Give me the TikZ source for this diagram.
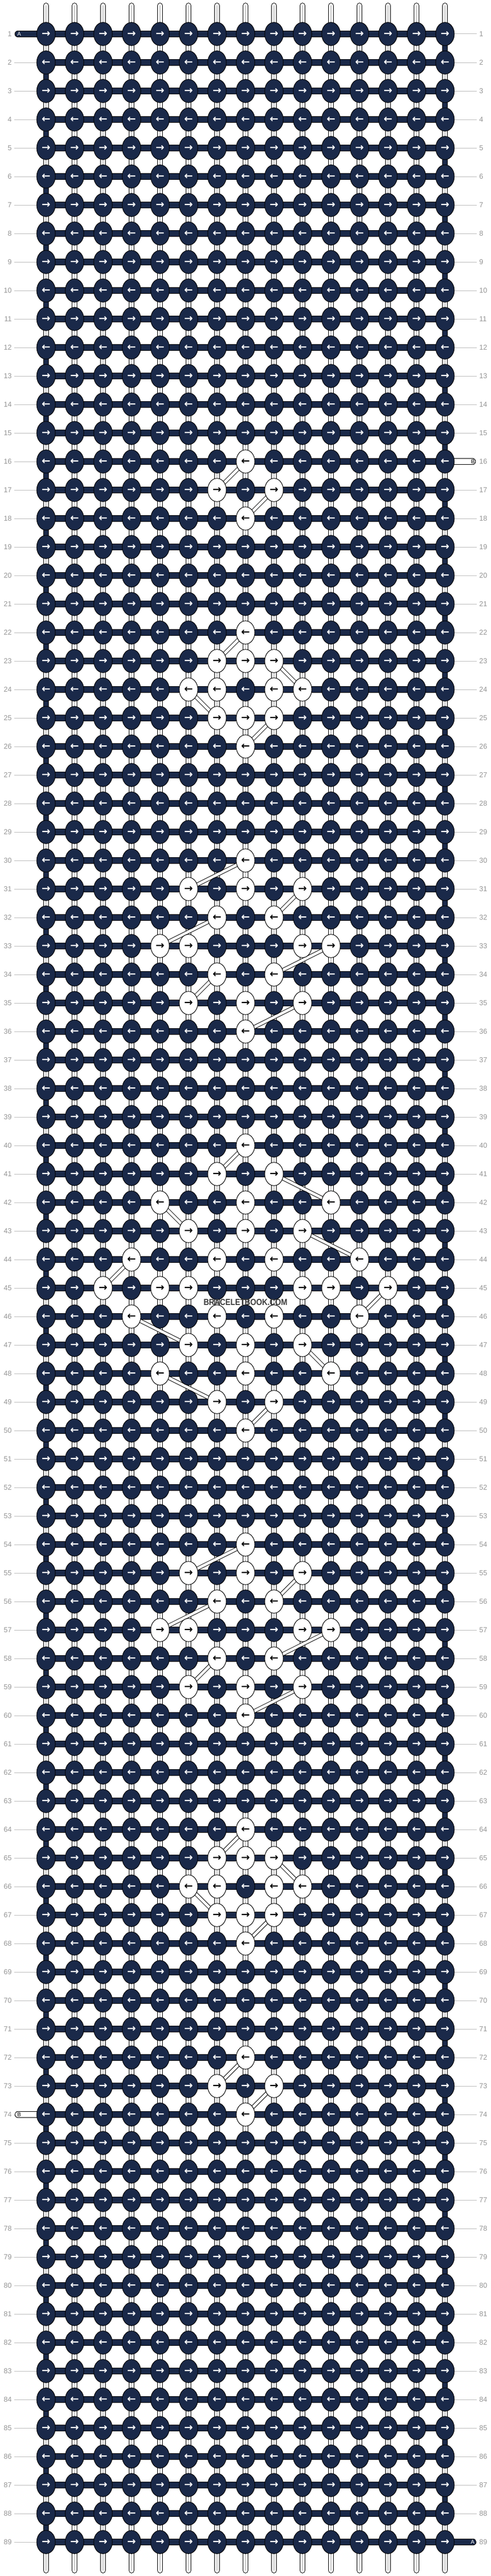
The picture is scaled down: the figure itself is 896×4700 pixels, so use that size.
\documentclass[tikz,border=0pt]{standalone}
\usepackage{fontspec}
\setmainfont{Liberation Sans}
\newfontfamily\arrowfont{DejaVu Sans}
\usetikzlibrary{shapes.geometric}
\definecolor{navyk}{RGB}{26,41,73}
\definecolor{lblgrey}{RGB}{150,150,150}
\definecolor{lngrey}{RGB}{190,190,190}
\definecolor{midgrey}{RGB}{200,200,200}
\definecolor{wmgrey}{RGB}{60,60,60}
\tikzset{
 strout/.style={line width=10.7pt, draw=black, line cap=round},
 strin/.style={line width=8.7pt, draw=white, line cap=round},
 strmid/.style={line width=2pt, draw=midgrey, line cap=round},
 bandout/.style={line width=11.5pt, draw=black},
 bandin/.style={line width=9.5pt, draw=navyk},
 bandwhite/.style={line width=9.5pt, draw=white},
 turnout/.style={line width=10.7pt, draw=black},
 turnin/.style={line width=8.7pt, draw=navyk},
 diagout/.style={line width=7pt, draw=black},
 diagin/.style={line width=5pt, draw=white},
 lblline/.style={line width=1pt, draw=lngrey},
 numlbl/.style={font=\fontsize{13}{13}\selectfont, text=lblgrey, inner sep=0pt},
 endlbl/.style={font=\fontsize{10}{10}\selectfont, inner sep=0pt},
 knotbase/.style={ellipse, draw=black, line width=1pt, minimum width=34pt, minimum height=42.5pt, inner sep=0pt, font=\arrowfont\bfseries\fontsize{19}{19}\selectfont},
}
\begin{document}
\begin{tikzpicture}[x=1pt,y=-1pt]
\useasboundingbox (0,0) rectangle (896,4700);
\fill[white] (0,0) rectangle (896,4700);
% white knot map
\foreach \r/\c in {16/8,17/7,17/9,18/8,
 22/8,23/7,23/8,23/9,24/6,24/7,24/9,24/10,25/7,25/8,25/9,26/8,
 30/8,31/6,31/8,31/10,32/7,32/9,33/5,33/6,33/10,33/11,34/7,34/9,35/6,35/8,35/10,36/8,
 40/8,41/7,41/9,42/5,42/8,42/11,43/6,43/8,43/10,44/4,44/7,44/9,44/12,
 45/3,45/5,45/6,45/10,45/11,45/13,46/4,46/7,46/9,46/12,
 47/6,47/8,47/10,48/5,48/8,48/11,49/7,49/9,50/8,
 54/8,55/6,55/8,55/10,56/7,56/9,57/5,57/6,57/10,57/11,58/7,58/9,59/6,59/8,59/10,60/8,
 64/8,65/7,65/8,65/9,66/6,66/7,66/9,66/10,67/7,67/8,67/9,68/8,
 72/8,73/7,73/9,74/8}{\expandafter\gdef\csname wk@\r @\c\endcsname{1}}
% coordinates
\foreach \r in {1,...,89}{
  \foreach \c in {1,...,15}{
    \coordinate (p-\r-\c) at ({84+52*(\c-1)},{62+52*(\r-1)});
  }
}
\foreach \c in {1,...,15}{
  \coordinate (top-\c) at ({84+52*(\c-1)},10.4);
  \coordinate (bot-\c) at ({84+52*(\c-1)},4689.6);
}
% vertical base strings
\foreach \c in {1,...,15}{
  \draw[strout] (top-\c) -- (bot-\c);
  \draw[strin] (top-\c) -- (bot-\c);
  \draw[strmid] (top-\c) -- (bot-\c);
}
% horizontal knotting thread
\foreach \r in {1,...,89}{
  \draw[bandout] (p-\r-1) -- (p-\r-15);
  \draw[bandin] (p-\r-1) -- (p-\r-15);
}
% turns at the edges
\foreach \r in {1,3,...,87}{
  \pgfmathtruncatemacro\rn{\r+1}
  \draw[turnout] (p-\r-15) -- (p-\rn-15);
  \draw[turnin] (p-\r-15) -- (p-\rn-15);
}
\foreach \r in {2,4,...,88}{
  \pgfmathtruncatemacro\rn{\r+1}
  \draw[turnout] (p-\r-1) -- (p-\rn-1);
  \draw[turnin] (p-\r-1) -- (p-\rn-1);
}
% thread ends
\coordinate (endA1) at (32.5,62);
\coordinate (endA2) at (863.5,4638);
\coordinate (endB1) at (862.5,842);
\coordinate (endB2) at (32.5,3858);
\draw[bandout, line cap=round] (endA1) -- (p-1-1);
\draw[bandin, line cap=round] (endA1) -- (p-1-1);
\draw[bandout, line cap=round] (p-89-15) -- (endA2);
\draw[bandin, line cap=round] (p-89-15) -- (endA2);
\draw[bandout, line cap=round] (p-16-15) -- (endB1);
\draw[bandwhite, line cap=round] (p-16-15) -- (endB1);
\draw[bandout, line cap=round] (endB2) -- (p-74-1);
\draw[bandwhite, line cap=round] (endB2) -- (p-74-1);
% row label lines
\foreach \r in {1,...,89}{
  \pgfmathsetmacro\yy{62+52*(\r-1)}
  \coordinate (ll-\r) at (26,\yy);
  \coordinate (rl-\r) at (870,\yy);
  \ifnum\r=1 \else\ifnum\r=74 \else \draw[lblline] (ll-\r) -- (p-\r-1);\fi\fi
  \ifnum\r=16 \else\ifnum\r=89 \else \draw[lblline] (p-\r-15) -- (rl-\r);\fi\fi
}
% floating B thread
\foreach \ra/\ca/\rb/\cb in {16/8/17/7,17/9/18/8,
 22/8/23/7,23/9/24/10,24/6/25/7,25/9/26/8,
 30/8/31/6,31/10/32/9,32/7/33/5,33/11/34/9,34/7/35/6,35/10/36/8,
 40/8/41/7,41/9/42/11,42/5/43/6,43/10/44/12,44/4/45/3,45/13/46/12,46/4/47/6,47/10/48/11,48/5/49/7,49/9/50/8,
 54/8/55/6,55/10/56/9,56/7/57/5,57/11/58/9,58/7/59/6,59/10/60/8,
 64/8/65/7,65/9/66/10,66/6/67/7,67/9/68/8,
 72/8/73/7,73/9/74/8}{
  \draw[diagout] (p-\ra-\ca) -- (p-\rb-\cb);
  \draw[diagin] (p-\ra-\ca) -- (p-\rb-\cb);
}
% knots
\foreach \r in {1,...,89}{
  \pgfmathtruncatemacro\odd{mod(\r,2)}
  \foreach \c in {1,...,15}{
    \ifcsname wk@\r @\c\endcsname \def\kf{white}\def\kt{black}\else\def\kf{navyk}\def\kt{white}\fi
    \ifnum\odd=1 \def\ag{→}\else\def\ag{←}\fi
    \node[knotbase, fill=\kf, text=\kt] (k-\r-\c) at (p-\r-\c) {\ag};
  }
}
% row numbers
\foreach \r in {1,...,89}{
  \pgfmathsetmacro\yy{62+52*(\r-1)}
  \node[numlbl, anchor=east] (nl-\r) at (21.5,\yy) {\r};
  \node[numlbl, anchor=west] (nr-\r) at (874.5,\yy) {\r};
}
\node[endlbl, text=white] (lA1) at (35,62) {A};
\node[endlbl, text=white] (lA2) at (862.5,4638) {A};
\node[endlbl, text=black] (lB1) at (863,842) {B};
\node[endlbl, text=black] (lB2) at (35,3858) {B};
% watermark
\node[font=\bfseries\fontsize{16}{16}\selectfont, text=wmgrey, inner sep=0pt] (wm) at (448,2376) {\scalebox{0.865}[1]{BRACELETBOOK.COM}};
\end{tikzpicture}
\end{document}
